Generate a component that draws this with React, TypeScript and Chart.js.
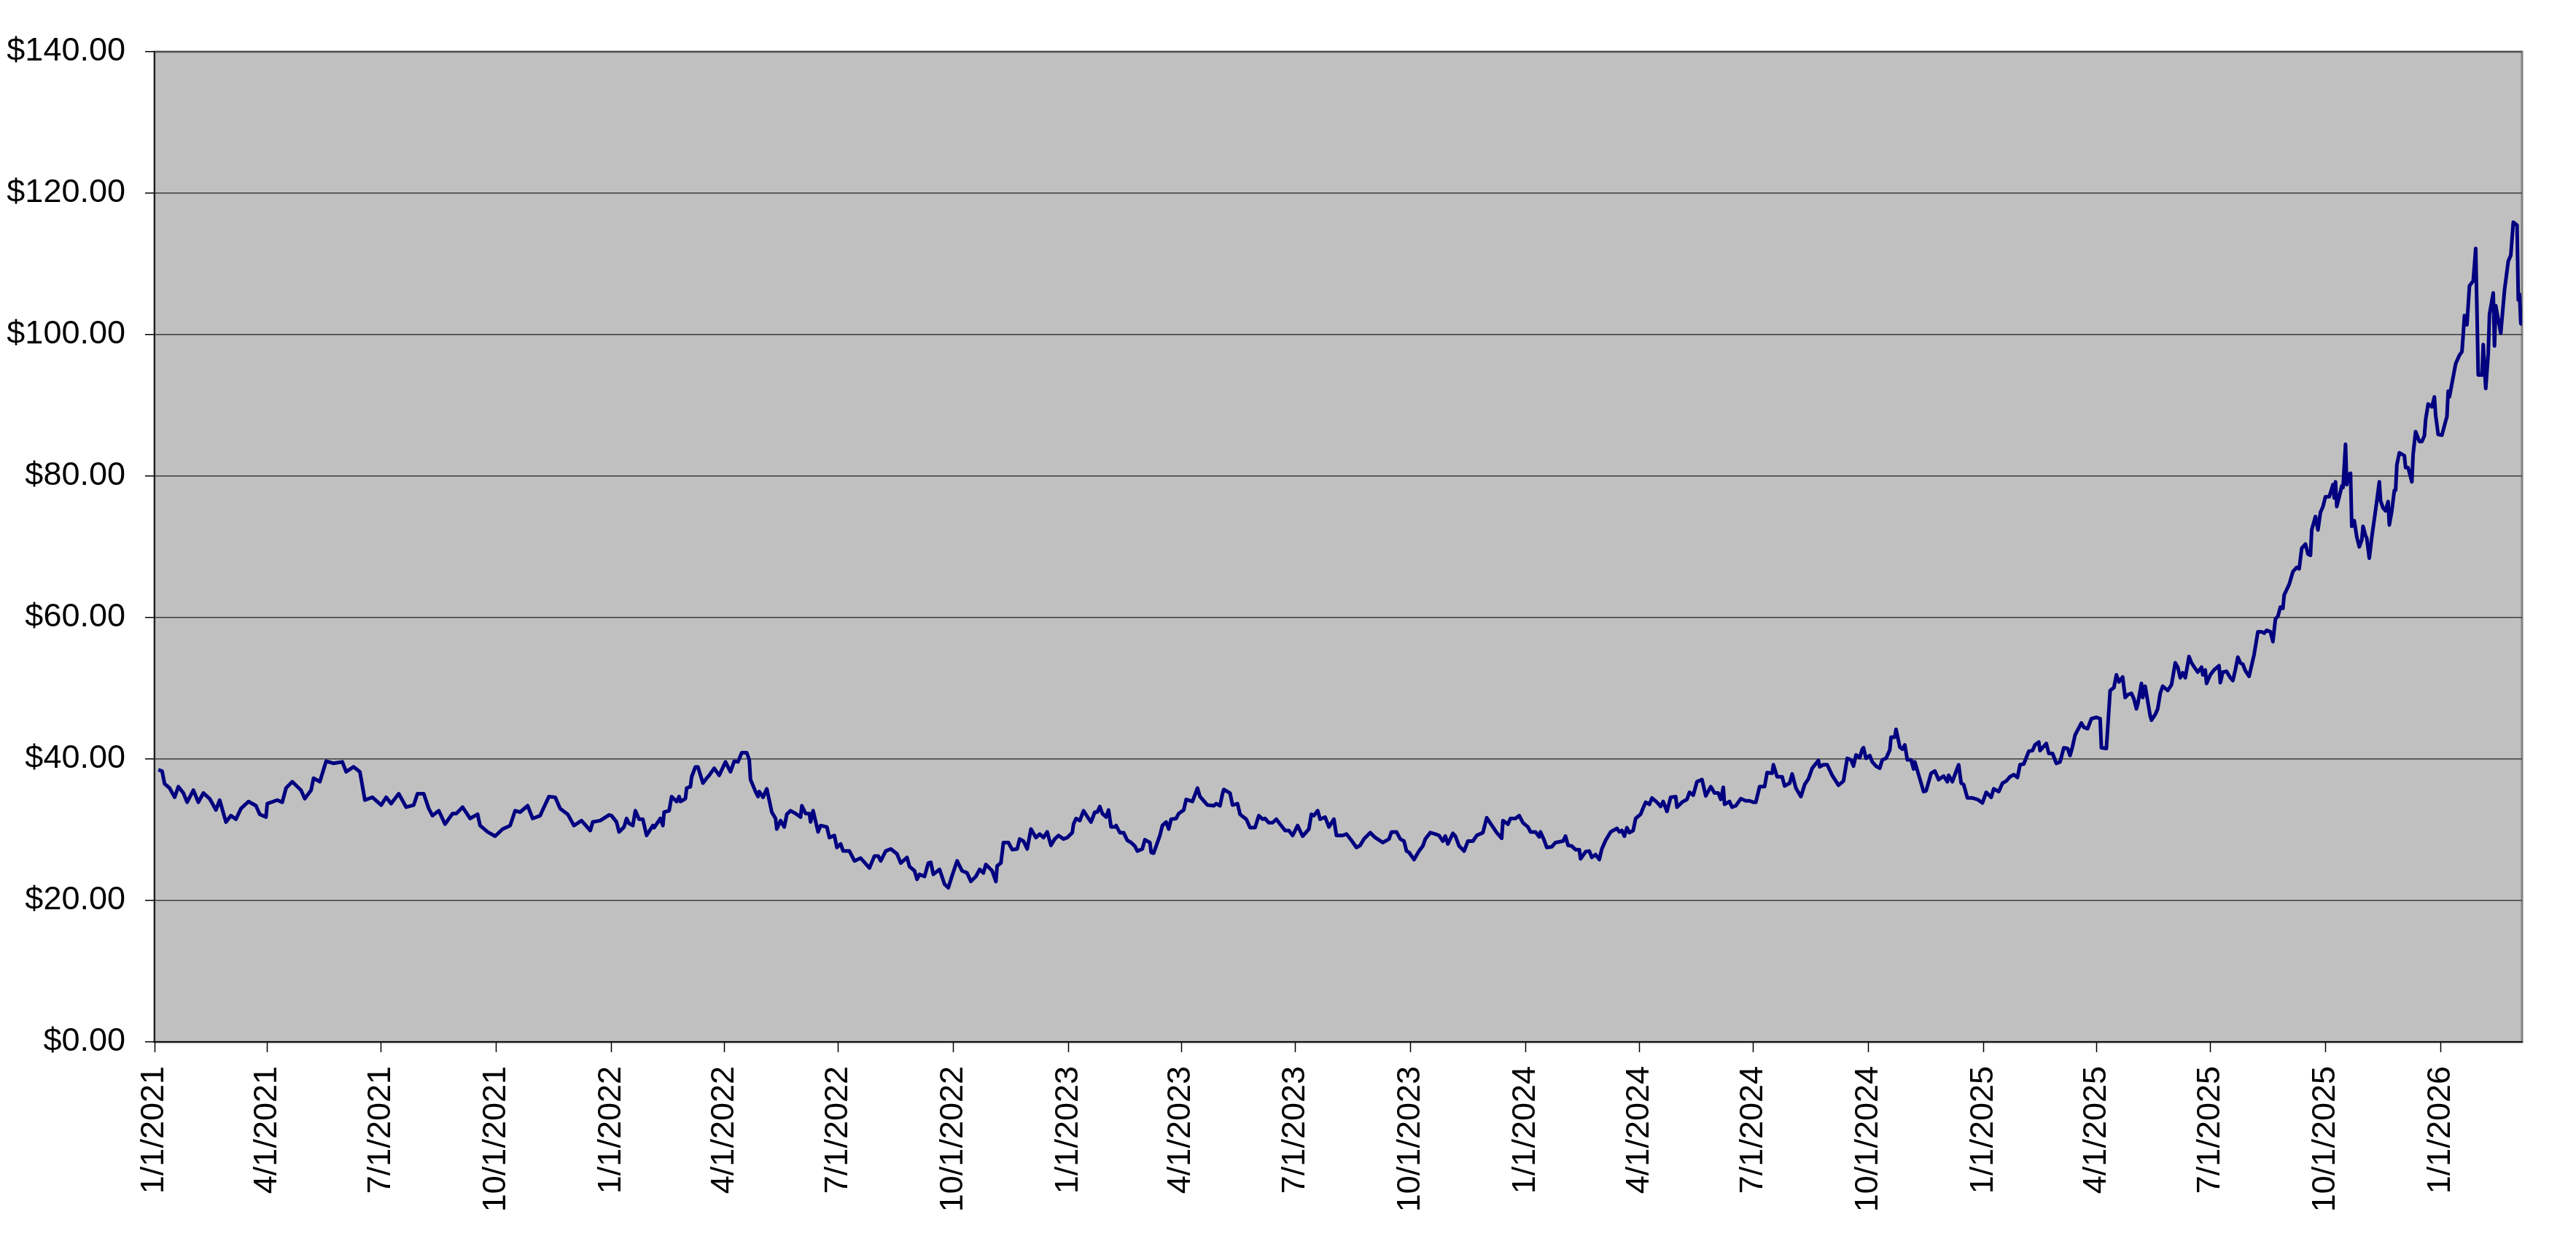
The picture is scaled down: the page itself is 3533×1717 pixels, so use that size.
import { Chart, registerables } from 'chart.js';
import React, { useEffect, useRef } from 'react';

Chart.register(...registerables);

// quarter-start labels shown under the axis
const tickLabels = [
  '1/1/2021', '4/1/2021', '7/1/2021', '10/1/2021',
  '1/1/2022', '4/1/2022', '7/1/2022', '10/1/2022',
  '1/1/2023', '4/1/2023', '7/1/2023', '10/1/2023',
  '1/1/2024', '4/1/2024', '7/1/2024', '10/1/2024',
  '1/1/2025', '4/1/2025', '7/1/2025', '10/1/2025',
  '1/1/2026',
];

// days counted from 1/1/2021
const tradingDays = [
  3, 6, 8, 12, 16, 19, 23, 26, 31, 35, 39, 44, 49, 52, 57, 61, 65, 69, 75, 81,
  84, 89, 90, 98, 102, 105, 110, 117, 120, 125, 127, 132, 137, 143, 150, 153, 159, 164, 168, 174,
  181, 185, 189, 195, 201, 207, 210, 215, 219, 222, 227, 232, 238, 241, 246, 252, 258, 260, 266, 272,
  278, 284, 288, 292, 298, 302, 308, 310, 315, 320, 324, 330, 335, 341, 348, 350, 356, 363,
  365, 369, 371, 375, 377, 379, 382, 384, 387, 390, 393, 398, 399, 404, 406, 407, 411, 413, 417, 419,
  420, 424, 425, 428, 429, 432, 434, 438, 441, 443, 447, 451, 456, 460, 463, 466, 469, 473, 475, 476,
  480, 482, 483, 486, 489, 493, 496, 497, 500, 503, 505, 508, 512, 516, 517, 520, 523, 524, 526, 530,
  532, 537, 539, 543, 545, 548, 550, 555, 559, 564, 567, 571, 575, 578, 580, 584, 588, 593, 596, 601,
  603, 607, 609, 611, 615, 618, 620, 622, 627, 631, 634, 637, 641, 645, 649, 652, 656, 659, 662, 664,
  669, 672, 673, 676, 678, 682, 685, 689, 691, 694, 697, 700, 704, 707, 710, 713, 716, 719, 722, 726,
  729,
  733, 734, 736, 739, 742, 746, 748, 751, 753, 755, 757, 760, 762, 764, 767, 768, 771, 774, 777, 780,
  783, 785, 789, 791, 795, 796, 798, 802, 803, 805, 808, 810, 812, 816, 818, 822, 824, 829, 833, 835,
  838, 841, 846, 848, 851, 853, 854, 859, 861, 865, 867, 869, 872, 875, 879, 882, 885, 887, 890, 893,
  896, 899, 903, 906, 909, 913, 917, 922, 924, 926, 929, 931, 935, 938, 942, 944, 949, 952, 956, 960,
  963, 966, 971, 975, 981, 986, 988, 992, 995, 998, 1000, 1002, 1006, 1010, 1013, 1015, 1019, 1023, 1026, 1029,
  1031, 1033, 1037, 1039, 1042, 1046, 1049, 1053, 1056, 1061, 1064, 1069, 1072, 1076, 1077, 1081, 1083, 1087, 1090, 1093,
  1097, 1099, 1103, 1106, 1107, 1110, 1112, 1116, 1119, 1122, 1125, 1127, 1129, 1132, 1135, 1138, 1139, 1143, 1146, 1148,
  1151, 1154, 1156, 1159, 1163, 1165, 1168, 1170, 1172, 1174, 1176, 1178, 1181, 1183, 1187, 1189, 1191, 1194, 1196, 1200,
  1203, 1205, 1208, 1211, 1215, 1216, 1220, 1224, 1226, 1229, 1232, 1236, 1239, 1243, 1246, 1249, 1251, 1253, 1254, 1258,
  1260, 1263, 1267, 1271, 1274, 1277, 1279, 1282, 1286, 1288, 1292, 1293, 1296, 1300, 1302, 1306, 1308, 1311, 1315, 1318,
  1321, 1324, 1329, 1330, 1333, 1336, 1340, 1345, 1349, 1352, 1355, 1357, 1359, 1362, 1364, 1365, 1367, 1370, 1372, 1375,
  1378, 1380, 1383, 1386, 1387, 1390, 1391, 1394, 1396, 1398, 1400, 1403, 1405, 1406, 1409, 1413, 1415, 1419, 1422, 1425,
  1429, 1432, 1433, 1436, 1438, 1441, 1443, 1445, 1448,
  1452, 1456, 1460, 1463, 1467, 1469, 1473, 1476, 1479, 1482, 1485, 1488, 1490, 1493, 1497, 1500, 1502, 1505, 1506, 1511,
  1513, 1516, 1519, 1522, 1525, 1528, 1530, 1532, 1534, 1539, 1541, 1544, 1547, 1551, 1554, 1555, 1559, 1562, 1565, 1567,
  1569, 1572, 1574, 1576, 1579, 1581, 1583, 1584, 1587, 1588, 1590, 1594, 1595, 1598, 1600, 1602, 1604, 1608, 1611, 1614,
  1616, 1618, 1620, 1622, 1625, 1627, 1630, 1632, 1635, 1636, 1638, 1639, 1642, 1645, 1649, 1650, 1652, 1655, 1658, 1660,
  1662, 1664, 1666, 1668, 1670, 1673, 1677, 1680, 1683, 1685, 1687, 1690, 1692, 1694, 1696, 1698, 1700, 1701, 1705,
  1708, 1711, 1713, 1715, 1718, 1720, 1722, 1723, 1726, 1728, 1730, 1732, 1734, 1737, 1740, 1741, 1742, 1743, 1745, 1747,
  1748, 1750, 1751, 1752, 1754, 1755, 1757, 1759, 1761, 1763, 1764, 1766, 1767, 1769, 1771, 1773, 1775, 1777, 1778, 1780,
  1782, 1784, 1785, 1787, 1789, 1790, 1791, 1793, 1797, 1798, 1800, 1803, 1804, 1806, 1809, 1811, 1813, 1814, 1816, 1819,
  1821, 1822, 1824, 1827, 1830, 1831, 1832, 1833, 1835, 1838, 1841, 1843, 1844, 1845, 1847, 1849, 1852, 1854, 1856, 1859,
  1860, 1862, 1864, 1865, 1868, 1869, 1870, 1874, 1877, 1880, 1882, 1884, 1887, 1888, 1889, 1890, 1891,
];

const closingPrices = [
  38.5, 38.3, 36.5, 35.9, 34.6, 36.1, 35.2, 33.9, 35.6, 33.9, 35.2, 34.4, 32.8, 34.2, 31.1, 32.0, 31.5, 33.0, 34.0, 33.4,
  32.2, 31.8, 33.7, 34.2, 33.9, 35.9, 36.8, 35.6, 34.4, 35.6, 37.3, 36.8, 39.7, 39.4, 39.6, 38.2, 38.9, 38.2, 34.2, 34.6,
  33.5, 34.6, 33.7, 35.1, 33.2, 33.5, 35.1, 35.1, 33.0, 32.0, 32.7, 30.8, 32.3, 32.3, 33.2, 31.6, 32.2, 30.6, 29.7, 29.1,
  30.1, 30.6, 32.7, 32.5, 33.4, 31.6, 32.0, 32.8, 34.7, 34.6, 33.0, 32.2, 30.6, 31.3, 29.9, 31.1, 31.3, 32.1,
  32.0, 31.1, 29.7, 30.4, 31.6, 30.9, 30.6, 32.7, 31.5, 31.5, 29.2, 30.6, 30.3, 31.6, 30.6, 32.5, 32.7, 34.7, 34.0, 34.7,
  34.0, 34.4, 35.9, 36.1, 37.5, 38.9, 38.9, 36.6, 37.3, 37.7, 38.7, 37.7, 39.6, 38.2, 39.7, 39.6, 40.9, 40.9, 39.9, 37.1,
  35.4, 34.7, 35.4, 34.6, 35.8, 32.5, 31.6, 30.1, 31.3, 30.4, 32.2, 32.7, 32.3, 31.8, 33.4, 32.3, 32.3, 31.1, 32.7, 29.7,
  30.6, 30.4, 28.9, 29.2, 27.5, 28.0, 27.0, 27.0, 25.6, 26.0, 25.4, 24.6, 26.3, 26.3, 25.6, 27.0, 27.3, 26.6, 25.3, 26.1,
  24.8, 24.2, 23.0, 23.7, 23.4, 25.3, 25.4, 23.7, 24.4, 22.3, 21.8, 23.5, 25.6, 24.2, 23.9, 22.7, 23.4, 24.4, 23.9, 25.1,
  24.2, 22.7, 24.9, 25.3, 28.2, 28.2, 27.2, 27.3, 28.7, 28.4, 27.3, 30.1, 28.9, 29.4, 28.9, 29.7, 27.8, 28.7, 29.2, 28.7,
  28.9,
  29.6, 30.8, 31.6, 31.3, 32.7, 31.6, 31.1, 32.5, 32.5, 33.3, 32.3, 31.8, 32.8, 30.4, 30.4, 30.6, 29.6, 29.6, 28.5, 28.2,
  27.7, 27.0, 27.3, 28.6, 28.2, 26.8, 26.7, 28.7, 29.2, 30.6, 31.1, 30.1, 31.5, 31.6, 32.3, 32.8, 34.3, 34.0, 35.9, 34.7,
  34.1, 33.5, 33.4, 33.7, 33.4, 35.1, 35.7, 35.2, 33.5, 33.7, 32.2, 31.9, 31.5, 30.3, 30.3, 32.0, 31.5, 31.6, 31.0, 31.0,
  31.5, 30.8, 29.9, 29.9, 29.2, 30.6, 29.1, 30.1, 32.2, 32.0, 32.7, 31.5, 31.8, 30.4, 31.5, 29.2, 29.2, 29.4, 28.5, 27.5,
  27.8, 28.7, 29.6, 28.9, 28.2, 28.7, 29.7, 29.7, 28.7, 28.4, 27.0, 26.8, 25.8, 27.0, 27.7, 28.7, 29.6, 29.4, 29.2, 28.4,
  29.1, 28.0, 29.5, 29.1, 27.7, 27.0, 28.4, 28.4, 29.2, 29.6, 31.7, 30.4, 29.6, 28.8, 31.3, 30.8, 31.6, 31.6, 32.0, 31.0,
  30.4, 29.7, 29.7, 29.0, 29.7, 28.5, 27.5, 27.6, 28.2, 28.3, 28.4, 29.1, 27.8, 27.7, 27.2, 27.2, 25.9, 26.9, 27.0, 26.1,
  26.5, 25.8, 27.3, 28.5, 29.7, 29.9, 30.2, 29.7, 29.9, 29.1, 30.3, 29.6, 29.9, 31.6, 32.2, 33.1, 33.9, 33.6, 34.5, 33.9,
  33.3, 34.0, 32.6, 34.6, 34.7, 33.2, 33.9, 34.3, 35.3, 34.9, 36.8, 37.1, 34.8, 36.1, 35.2, 35.2, 34.3, 36.0, 33.6, 34.0,
  33.2, 33.4, 34.4, 34.1, 34.1, 33.9, 33.9, 36.1, 36.1, 38.1, 38.0, 39.2, 37.5, 37.5, 36.2, 36.6, 37.9, 35.9, 34.7, 36.4,
  37.2, 38.7, 39.8, 38.9, 39.2, 39.2, 37.7, 36.3, 36.9, 40.1, 39.9, 39.0, 40.6, 40.2, 41.4, 41.6, 40.1, 40.5, 39.6, 39.0,
  38.7, 39.9, 40.1, 41.3, 43.1, 43.1, 44.2, 41.7, 41.4, 42.0, 39.9, 39.9, 38.6, 39.6, 37.8, 35.4, 35.5, 38.0, 38.3, 37.1,
  37.6, 36.8, 37.7, 36.8, 37.8, 39.2, 36.6, 36.4, 34.5,
  34.5, 34.3, 33.8, 35.3, 34.6, 35.8, 35.4, 36.6, 36.9, 37.5, 37.8, 37.4, 39.2, 39.3, 41.1, 41.2, 42.0, 42.4, 41.2, 42.2,
  40.8, 40.8, 39.4, 39.6, 41.6, 41.5, 40.5, 41.8, 43.4, 45.1, 44.5, 44.3, 45.7, 45.9, 45.7, 41.6, 41.5, 49.7, 50.1, 51.9,
  50.9, 51.6, 48.7, 49.1, 49.3, 48.5, 47.1, 47.7, 50.7, 48.7, 50.3, 46.1, 45.5, 46.3, 47.1, 49.3, 50.3, 49.7, 50.5, 53.6,
  53.0, 51.5, 52.2, 51.5, 54.5, 53.6, 52.8, 52.3, 53.0, 51.9, 52.6, 50.7, 51.9, 52.6, 53.2, 50.8, 52.3, 52.4, 51.5, 51.1,
  52.6, 54.4, 53.6, 53.4, 52.5, 51.7, 54.8, 58.0, 58.0, 57.8, 58.2, 58.0, 56.6, 59.8, 60.2, 61.5, 61.3, 63.2, 64.7,
  66.5, 67.1, 66.9, 69.8, 70.4, 69.0, 68.8, 72.4, 74.3, 72.4, 74.9, 75.7, 77.1, 77.1, 78.8, 76.9, 79.2, 75.7, 77.1, 78.6,
  78.4, 84.5, 78.8, 80.2, 80.4, 72.9, 73.7, 71.4, 70.0, 71.0, 72.9, 71.6, 71.2, 68.4, 71.4, 73.9, 76.5, 79.2, 76.5, 75.5,
  75.1, 76.4, 73.1, 75.1, 78.0, 78.0, 81.6, 83.3, 82.9, 81.2, 81.2, 79.2, 83.1, 86.3, 84.9, 84.9, 85.7, 88.0, 90.2, 89.8,
  91.2, 88.6, 85.9, 85.8, 87.8, 88.4, 92.0, 91.2, 93.1, 95.9, 97.1, 97.6, 100.0, 102.7, 101.4, 106.9, 107.6, 112.2, 94.3, 94.3,
  98.6, 92.4, 97.3, 102.9, 105.9, 98.4, 104.1, 100.2, 106.3, 110.4, 111.2, 115.9, 115.5, 104.9, 105.7, 101.6, 101.4,
];

const yTicks = [0, 20, 40, 60, 80, 100, 120, 140];

const DAY_MS = 86400000;
const START_MS = Date.UTC(2021, 0, 1);
const lastDay = 1891;

function labelToDay(label: string) {
  const [m, d, y] = label.split('/').map(Number);
  return Math.round((Date.UTC(y, m - 1, d) - START_MS) / DAY_MS);
}

function dayToLabel(day: number) {
  const dt = new Date(START_MS + day * DAY_MS);
  return `${dt.getUTCMonth() + 1}/${dt.getUTCDate()}/${dt.getUTCFullYear()}`;
}

const plotFrame = {
  id: 'plotFrame',
  beforeDraw(chart: any) {
    const { ctx, chartArea } = chart;
    const { left, top, right, bottom } = chartArea;
    ctx.save();
    ctx.fillStyle = '#c0c0c0';
    ctx.fillRect(left, top, right - left, bottom - top);
    ctx.strokeStyle = '#808080';
    ctx.lineWidth = 3;
    ctx.strokeRect(left, top, right - left, bottom - top);
    ctx.restore();
  },
};

export default function App() {
  const canvasRef = useRef<HTMLCanvasElement>(null);

  useEffect(() => {
    if (!canvasRef.current) return;
    const font = { family: '"Liberation Sans", Arial, sans-serif', size: 45 };

    const chart = new Chart(canvasRef.current, {
      type: 'line',
      data: {
        datasets: [
          {
            data: tradingDays.map((d, i) => ({ x: d, y: closingPrices[i] })),
            borderColor: '#000080',
            borderWidth: 5,
            borderJoinStyle: 'round',
            pointRadius: 0,
            tension: 0,
            fill: false,
          },
        ],
      },
      options: {
        animation: false,
        responsive: true,
        maintainAspectRatio: false,
        layout: { padding: { top: 71, right: 74, left: 0, bottom: 0 } },
        plugins: { legend: { display: false }, tooltip: { enabled: false } },
        scales: {
          x: {
            type: 'linear',
            min: 0,
            max: lastDay,
            afterBuildTicks: (scale: any) => {
              scale.ticks = tickLabels.map((l) => ({ value: labelToDay(l) }));
            },
            afterFit: (scale: any) => {
              scale.height = 288;
            },
            grid: {
              drawOnChartArea: false,
              drawTicks: true,
              tickLength: 14,
              tickColor: '#000',
              tickWidth: 1.5,
            },
            border: { color: '#000', width: 1.5 },
            ticks: {
              autoSkip: false,
              minRotation: 90,
              maxRotation: 90,
              padding: 19,
              color: '#000',
              font,
              callback: (v: any) => dayToLabel(Number(v)),
            },
          },
          y: {
            min: 0,
            max: 140,
            afterBuildTicks: (scale: any) => {
              scale.ticks = yTicks.map((v) => ({ value: v }));
            },
            afterFit: (scale: any) => {
              scale.width = 212;
            },
            grid: {
              color: '#3c3c3c',
              lineWidth: 1.5,
              drawTicks: true,
              tickLength: 13,
              tickColor: '#000',
              tickWidth: 1.5,
            },
            border: { color: '#000', width: 1.5 },
            ticks: {
              padding: 27,
              color: '#000',
              font,
              callback: (v: any) => `$${Number(v).toFixed(2)}`,
            },
          },
        },
      },
      plugins: [plotFrame],
    });

    return () => {
      chart.destroy();
    };
  }, []);

  return (
    <div style={{ position: 'fixed', left: 0, top: 0, width: 3533, height: 1717, background: '#fff' }}>
      <canvas ref={canvasRef} />
    </div>
  );
}
